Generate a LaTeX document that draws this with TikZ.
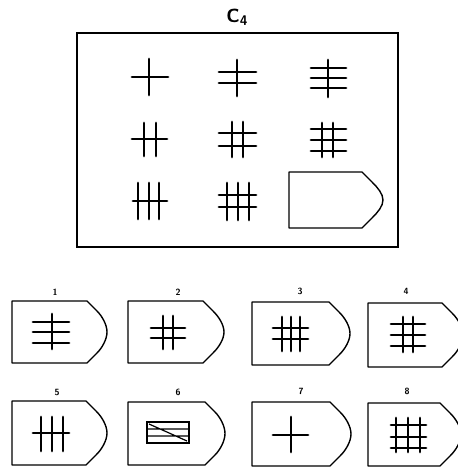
\documentclass[tikz,border=0pt]{standalone}
\newcommand{\hl}[3]{\draw[fig] (#2,#1) -- (#3,#1);}
\newcommand{\vl}[3]{\draw[fig] (#1,#2) -- (#1,#3);}
% tag shape: left x, top y, bottom y, flat end x, tip x
\newcommand{\tagshape}[5]{%
  \pgfmathsetmacro{\tgd}{#5-#4}%
  \pgfmathsetmacro{\tgmx}{#4+0.5*\tgd}%
  \pgfmathsetmacro{\tgcx}{#4+0.75*\tgd}%
  \pgfmathsetmacro{\tgyb}{#3-0.5*\tgd}%
  \pgfmathsetmacro{\tgyt}{#2+0.5*\tgd}%
  \pgfmathsetmacro{\tgcb}{#3-0.75*\tgd}%
  \pgfmathsetmacro{\tgct}{#2+0.75*\tgd}%
  \pgfmathsetmacro{\tgym}{0.5*(#2+#3)}%
  \pgfmathsetmacro{\tgqb}{\tgym+0.35*(\tgyb-\tgym)}%
  \pgfmathsetmacro{\tgqt}{\tgym-0.35*(\tgyb-\tgym)}%
  \draw[tag] (#4,#2) -- (#1,#2) -- (#1,#3) -- (#4,#3)
    -- (\tgmx,\tgyb) .. controls (\tgcx,\tgcb) and (#5,\tgqb) .. (#5,\tgym)
    .. controls (#5,\tgqt) and (\tgcx,\tgct) .. (\tgmx,\tgyt) -- cycle;}
\begin{document}
\begin{tikzpicture}[x=1pt,y=-1pt,
  fig/.style={line width=2.9pt,line cap=round},
  frame/.style={line width=1.8pt},
  tag/.style={line width=1.4pt,line join=round},
  num/.style={font=\sffamily\bfseries\fontsize{9}{10}\selectfont,inner sep=0pt}]
\useasboundingbox (0,0) rectangle (458,467);
\clip (0,0) rectangle (458,467);
% title
\node[inner sep=0pt] (title) at (237,17) {\sffamily\bfseries\fontsize{19}{20}\selectfont C\raisebox{-3pt}{\fontsize{14}{15}\selectfont 4}};
% matrix frame
\draw[frame] (77,33) rectangle (398,247);
% row 1
\hl{77}{132}{168} \vl{149}{59}{95}
\foreach \y in {72,83} {\hl{\y}{219}{256}} \vl{237}{60}{96}
\foreach \y in {68,78,88} {\hl{\y}{311}{346}} \vl{328}{60}{97}
% row 2
\hl{139}{132}{167} \foreach \x in {144,156} {\vl{\x}{123}{156}}
\foreach \y in {133,146} {\hl{\y}{219}{256}} \foreach \x in {232,243} {\vl{\x}{122}{157}}
\foreach \y in {129,140,151} {\hl{\y}{311}{346}} \foreach \x in {322,333} {\vl{\x}{123}{157}}
% row 3
\hl{201}{133}{167} \foreach \x in {138,149,159} {\vl{\x}{183}{219}}
\foreach \y in {195,207} {\hl{\y}{219}{256}} \foreach \x in {227,238,249} {\vl{\x}{183}{220}}
\tagshape{289}{172}{228}{362}{383}
% answer tags
\tagshape{12}{301}{363}{87}{107}
\tagshape{128}{301}{363}{203}{224}
\tagshape{252}{302}{365}{329}{350}
\tagshape{368}{303}{367}{442}{463}
\tagshape{12}{401}{465}{86}{107}
\tagshape{128}{402}{465}{205}{225}
\tagshape{252}{402}{466}{330}{351}
\tagshape{368}{403}{466}{440}{461}
% labels
\node[num] (n1) at (55,292) {1};
\node[num] (n2) at (178,292) {2};
\node[num] (n3) at (300,291) {3};
\node[num] (n4) at (406,291) {4};
\node[num] (n5) at (57,392) {5};
\node[num] (n6) at (178,392) {6};
\node[num] (n7) at (301,391) {7};
\node[num] (n8) at (407,391) {8};
% answer figures
\foreach \y in {322,332,343} {\hl{\y}{33}{69}} \vl{52}{314}{349}
\foreach \y in {328,338} {\hl{\y}{151}{185}} \foreach \x in {163,173} {\vl{\x}{316}{349}}
\foreach \y in {328,339} {\hl{\y}{273}{308}} \foreach \x in {282,291,300} {\vl{\x}{317}{351}}
\foreach \y in {324,335,346} {\hl{\y}{391}{425}} \foreach \x in {403,413} {\vl{\x}{317}{352}}
\hl{433}{33}{69} \foreach \x in {41,52,63} {\vl{\x}{417}{451}}
% 6: striped box with diagonal
\draw[line width=2.2pt] (147,422) rectangle (189,443);
\draw[line width=1.2pt] (147,429) -- (189,429) (147,436) -- (189,436) (149,424) -- (187,441);
\hl{435}{273}{308} \vl{291}{417}{452}
\foreach \y in {425,437,448} {\hl{\y}{391}{426}} \foreach \x in {396,408,420} {\vl{\x}{418}{452}}
\end{tikzpicture}
\end{document}
